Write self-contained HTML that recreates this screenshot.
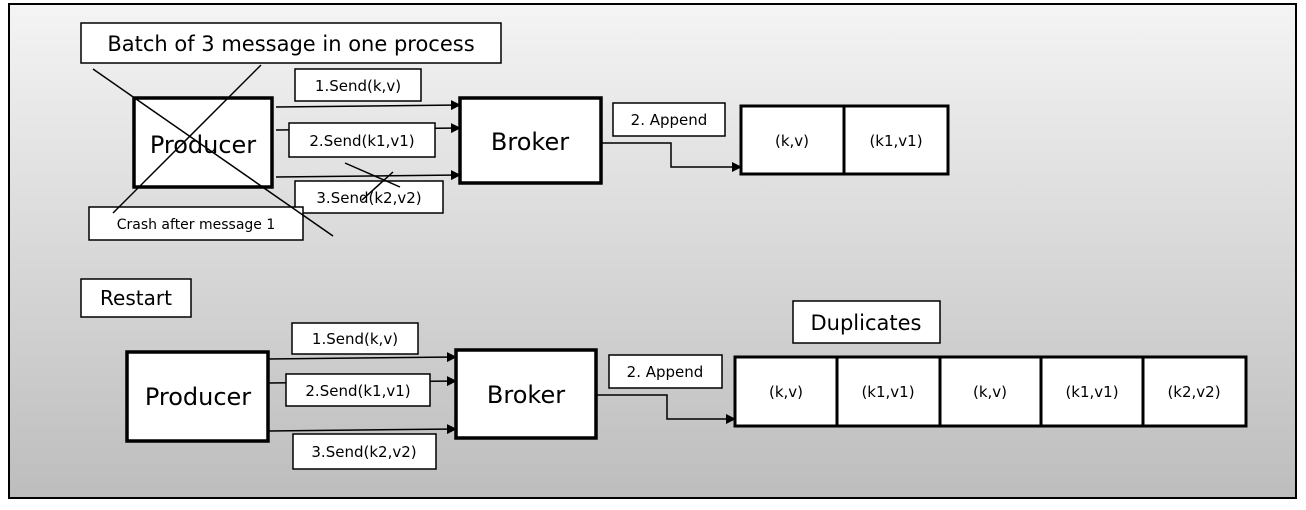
<!DOCTYPE html>
<html><head><meta charset="utf-8"><style>
html,body{margin:0;padding:0;background:#fff;}
svg{display:block;}
text{font-family:"DejaVu Sans","Liberation Sans",sans-serif;fill:#000;}
</style></head><body>
<svg width="1306" height="510" viewBox="0 0 1306 510" xmlns="http://www.w3.org/2000/svg">
<defs>
<linearGradient id="bg" x1="0" y1="0" x2="0" y2="1">
<stop offset="0" stop-color="#f4f4f4"/><stop offset="1" stop-color="#bdbdbd"/>
</linearGradient>
<marker id="ah" markerWidth="10" markerHeight="10" refX="9" refY="5" orient="auto" markerUnits="userSpaceOnUse">
<path d="M0,0 L10,5 L0,10 z" fill="#000"/></marker>
</defs>
<rect x="9" y="4" width="1287" height="494" fill="url(#bg)" stroke="#000" stroke-width="2"/>

<g stroke="#000" stroke-width="1.5" fill="none">
<line x1="276" y1="107" x2="460" y2="105" marker-end="url(#ah)"/>
<line x1="276" y1="130" x2="460" y2="128" marker-end="url(#ah)"/>
<line x1="276" y1="177" x2="460" y2="175" marker-end="url(#ah)"/>
<polyline points="601,143 671,143 671,167 741,167" marker-end="url(#ah)"/>
</g>
<rect x="81" y="23" width="420" height="40" fill="#fff" stroke="#000" stroke-width="1.5"/>
<text x="291" y="51" font-size="21" text-anchor="middle">Batch of 3 message in one process</text>
<rect x="134" y="98" width="138" height="89" fill="#fff" stroke="#000" stroke-width="3.5"/>
<text x="203" y="153" font-size="24" text-anchor="middle">Producer</text>
<rect x="295" y="69" width="126" height="32" fill="#fff" stroke="#000" stroke-width="1.5"/>
<text x="358" y="91" font-size="15" text-anchor="middle">1.Send(k,v)</text>
<rect x="289" y="123" width="146" height="34" fill="#fff" stroke="#000" stroke-width="1.5"/>
<text x="362" y="146" font-size="15" text-anchor="middle">2.Send(k1,v1)</text>
<rect x="295" y="181" width="148" height="32" fill="#fff" stroke="#000" stroke-width="1.5"/>
<text x="369" y="203" font-size="15" text-anchor="middle">3.Send(k2,v2)</text>
<rect x="89" y="207" width="214" height="33" fill="#fff" stroke="#000" stroke-width="1.5"/>
<text x="196" y="229" font-size="14" text-anchor="middle">Crash after message 1</text>
<g stroke="#000" stroke-width="1.5">
<line x1="93" y1="69" x2="333" y2="236"/>
<line x1="113" y1="213" x2="261" y2="65"/>
<line x1="345" y1="163" x2="400" y2="187"/>
<line x1="362" y1="200" x2="393" y2="172"/>
</g>
<rect x="460" y="98" width="141" height="85" fill="#fff" stroke="#000" stroke-width="3.5"/>
<text x="530" y="150" font-size="24" text-anchor="middle">Broker</text>
<rect x="613" y="103" width="112" height="33" fill="#fff" stroke="#000" stroke-width="1.5"/>
<text x="669" y="125" font-size="15" text-anchor="middle">2. Append</text>
<rect x="741" y="106" width="207" height="68" fill="#fff" stroke="#000" stroke-width="3"/>
<line x1="844" y1="106" x2="844" y2="174" stroke="#000" stroke-width="3"/>
<text x="792" y="146" font-size="15" text-anchor="middle">(k,v)</text>
<text x="896" y="146" font-size="15" text-anchor="middle">(k1,v1)</text>

<rect x="81" y="279" width="110" height="38" fill="#fff" stroke="#000" stroke-width="1.5"/>
<text x="136" y="305" font-size="20" text-anchor="middle">Restart</text>
<g stroke="#000" stroke-width="1.5" fill="none">
<line x1="268" y1="359" x2="456" y2="357" marker-end="url(#ah)"/>
<line x1="268" y1="383" x2="456" y2="381" marker-end="url(#ah)"/>
<line x1="268" y1="431" x2="456" y2="429" marker-end="url(#ah)"/>
<polyline points="596,395 667,395 667,419 735,419" marker-end="url(#ah)"/>
</g>
<rect x="127" y="352" width="141" height="89" fill="#fff" stroke="#000" stroke-width="3.5"/>
<text x="198" y="405" font-size="24" text-anchor="middle">Producer</text>
<rect x="292" y="323" width="126" height="31" fill="#fff" stroke="#000" stroke-width="1.5"/>
<text x="355" y="344" font-size="15" text-anchor="middle">1.Send(k,v)</text>
<rect x="286" y="374" width="144" height="32" fill="#fff" stroke="#000" stroke-width="1.5"/>
<text x="358" y="396" font-size="15" text-anchor="middle">2.Send(k1,v1)</text>
<rect x="293" y="434" width="143" height="35" fill="#fff" stroke="#000" stroke-width="1.5"/>
<text x="364" y="457" font-size="15" text-anchor="middle">3.Send(k2,v2)</text>
<rect x="456" y="350" width="140" height="88" fill="#fff" stroke="#000" stroke-width="3.5"/>
<text x="526" y="403" font-size="24" text-anchor="middle">Broker</text>
<rect x="609" y="355" width="113" height="33" fill="#fff" stroke="#000" stroke-width="1.5"/>
<text x="665" y="377" font-size="15" text-anchor="middle">2. Append</text>
<rect x="793" y="301" width="147" height="42" fill="#fff" stroke="#000" stroke-width="1.5"/>
<text x="866" y="330" font-size="21" text-anchor="middle">Duplicates</text>
<rect x="735" y="357" width="511" height="69" fill="#fff" stroke="#000" stroke-width="3"/>
<g stroke="#000" stroke-width="3">
<line x1="837" y1="357" x2="837" y2="426"/>
<line x1="940" y1="357" x2="940" y2="426"/>
<line x1="1041" y1="357" x2="1041" y2="426"/>
<line x1="1143" y1="357" x2="1143" y2="426"/>
</g>
<g font-size="15" text-anchor="middle">
<text x="786" y="397">(k,v)</text>
<text x="888" y="397">(k1,v1)</text>
<text x="990" y="397">(k,v)</text>
<text x="1092" y="397">(k1,v1)</text>
<text x="1194" y="397">(k2,v2)</text>
</g>
</svg>
</body></html>
